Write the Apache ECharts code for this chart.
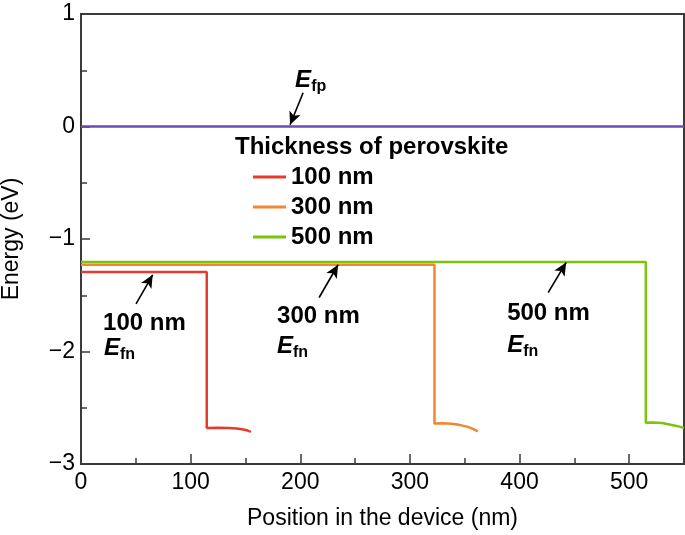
<!DOCTYPE html>
<html><head><meta charset="utf-8">
<script src="https://cdn.jsdelivr.net/npm/echarts@6/dist/echarts.min.js"></script>
<style>html,body{margin:0;padding:0;background:#fff}#c{width:685px;height:535px}</style>
</head><body><div id="c"></div>
<script>
// ---- data ----
const efpX = [0, 550];
const efpY = [0, 0];
const x100 = [0, 114.7, 114.7, 125, 135, 142, 148, 152, 155];
const y100 = [-1.294, -1.294, -2.68, -2.678, -2.68, -2.685, -2.694, -2.703, -2.714];
const x300 = [0, 322.4, 322.4, 330, 338, 345, 352, 357, 362];
const y300 = [-1.229, -1.229, -2.64, -2.638, -2.642, -2.652, -2.668, -2.685, -2.71];
const x500 = [0, 515.2, 515.2, 522, 530, 540, 546, 550];
const y500 = [-1.205, -1.205, -2.634, -2.632, -2.636, -2.655, -2.668, -2.68];
const seriesNames = ['100 nm', '300 nm', '500 nm'];
const xMajorTicks = [0, 100, 200, 300, 400, 500];
const xMinorTicks = [50, 150, 250, 350, 450];
// annotation arrows (data coords): [start, end]
const arrows = [
  [[202.6, 0.30], [190.7, 0.015]],
  [[50.2, -1.576], [65.4, -1.318]],
  [[217.2, -1.52], [234.5, -1.229]],
  [[426.1, -1.476], [442.5, -1.209]]
];
// annotation texts (data coords of left/middle anchor)
const notes = [
  {x: 195.3, y: 0.40, text: '{e|E}{s|fp}'},
  {x: 20.1, y: -1.754, text: '{b|100 nm}'},
  {x: 21.0, y: -1.98, text: '{e|E}{s|fn}'},
  {x: 178.8, y: -1.692, text: '{b|300 nm}'},
  {x: 178.8, y: -1.965, text: '{e|E}{s|fn}'},
  {x: 388.7, y: -1.665, text: '{b|500 nm}'},
  {x: 388.7, y: -1.955, text: '{e|E}{s|fn}'}
];
const colors = ['#e63b2c', '#f3862f', '#7bc40c'];
const purple = '#6a4cb8';
const FONT = '"Liberation Sans", Arial, Helvetica, sans-serif';

const zip = (xs, ys) => xs.map((v, i) => [v, ys[i]]);
const rich = {
  e: {fontFamily: FONT, fontSize: 24, fontWeight: 'bold', fontStyle: 'italic', color: '#000', lineHeight: 26, verticalAlign: 'top'},
  s: {fontFamily: FONT, fontSize: 16, fontWeight: 'bold', color: '#000', lineHeight: 18, verticalAlign: 'bottom'},
  b: {fontFamily: FONT, fontSize: 24, fontWeight: 'bold', color: '#000'}
};

const chart = echarts.init(document.getElementById('c'), null, {renderer: 'canvas'});
const axisCol = '#3a3a3a';
const option = {
  animation: false,
  backgroundColor: '#fff',
  textStyle: {fontFamily: FONT},
  title: {
    text: 'Thickness of perovskite', left: 235, top: 135, padding: 0,
    textStyle: {fontFamily: FONT, fontSize: 24, fontWeight: 'bold', color: '#000'}
  },
  legend: {
    data: seriesNames, orient: 'vertical', left: 253, top: 165, padding: 0,
    icon: 'rect', itemWidth: 33, itemHeight: 3, itemGap: 6,
    textStyle: {fontFamily: FONT, fontSize: 24, fontWeight: 'bold', color: '#000'}
  },
  grid: {left: 81, right: 1, top: 14, bottom: 71, show: true, borderColor: axisCol, borderWidth: 2,
         containLabel: false, outerBoundsMode: 'none'},
  xAxis: [{
    type: 'value', min: 0, max: 550, interval: 50,
    name: 'Position in the device (nm)', nameLocation: 'middle', nameGap: 43,
    nameTextStyle: {fontFamily: FONT, fontSize: 23, color: '#000'},
    axisLine: {show: true, onZero: false, lineStyle: {color: axisCol, width: 2}},
    axisTick: {show: true, inside: true, length: 10, customValues: xMajorTicks, lineStyle: {color: axisCol, width: 1.5}},
    axisLabel: {customValues: xMajorTicks, fontFamily: FONT, fontSize: 23, color: '#000', margin: 7},
    splitLine: {show: false}
  }, {
    type: 'value', min: 0, max: 550, interval: 50, position: 'bottom', offset: 0,
    axisLine: {show: false, onZero: false},
    axisTick: {show: true, inside: true, length: 6, customValues: xMinorTicks, lineStyle: {color: axisCol, width: 1.5}},
    axisLabel: {show: false}, splitLine: {show: false}
  }],
  yAxis: {
    type: 'value', min: -3, max: 1, interval: 1,
    name: 'Energy (eV)', nameLocation: 'middle', nameGap: 58,
    nameTextStyle: {fontFamily: FONT, fontSize: 23, color: '#000'},
    axisLine: {show: true, onZero: false, lineStyle: {color: axisCol, width: 2}},
    axisTick: {show: true, inside: true, length: 9, lineStyle: {color: axisCol, width: 1.5}},
    minorTick: {show: true, splitNumber: 2, length: 6, lineStyle: {color: axisCol, width: 1.5}},
    axisLabel: {fontFamily: FONT, fontSize: 23, color: '#000', margin: 6,
      formatter: v => (v < 0 ? '\u2212' + Math.abs(v) : String(v))},
    splitLine: {show: false}
  },
  series: [
    {name: 'Efp', type: 'line', data: zip(efpX, efpY), symbol: 'none', lineStyle: {color: purple, width: 2.5}, itemStyle: {color: purple}, z: 3,
     markLine: {
       silent: true, symbol: ['none', 'arrow'], symbolSize: [9, 13],
       lineStyle: {color: '#000', width: 1.6, type: 'solid'}, label: {show: false},
       data: arrows.map(a => [{coord: a[0]}, {coord: a[1]}])
     },
     markPoint: {
       silent: true, symbol: 'circle', symbolSize: 0,
       label: {show: true, position: [0, 0], align: 'left', verticalAlign: 'middle', rich: rich},
       data: notes.map(n => ({coord: [n.x, n.y], label: {formatter: n.text}}))
     }
    },
    {name: seriesNames[0], type: 'line', data: zip(x100, y100), symbol: 'none', lineStyle: {color: colors[0], width: 2.5}, itemStyle: {color: colors[0]}, z: 4},
    {name: seriesNames[1], type: 'line', data: zip(x300, y300), symbol: 'none', lineStyle: {color: colors[1], width: 2.5}, itemStyle: {color: colors[1]}, z: 3},
    {name: seriesNames[2], type: 'line', data: zip(x500, y500), symbol: 'none', lineStyle: {color: colors[2], width: 2.5}, itemStyle: {color: colors[2]}, z: 2}
  ]
};
chart.setOption(option);
</script></body></html>
